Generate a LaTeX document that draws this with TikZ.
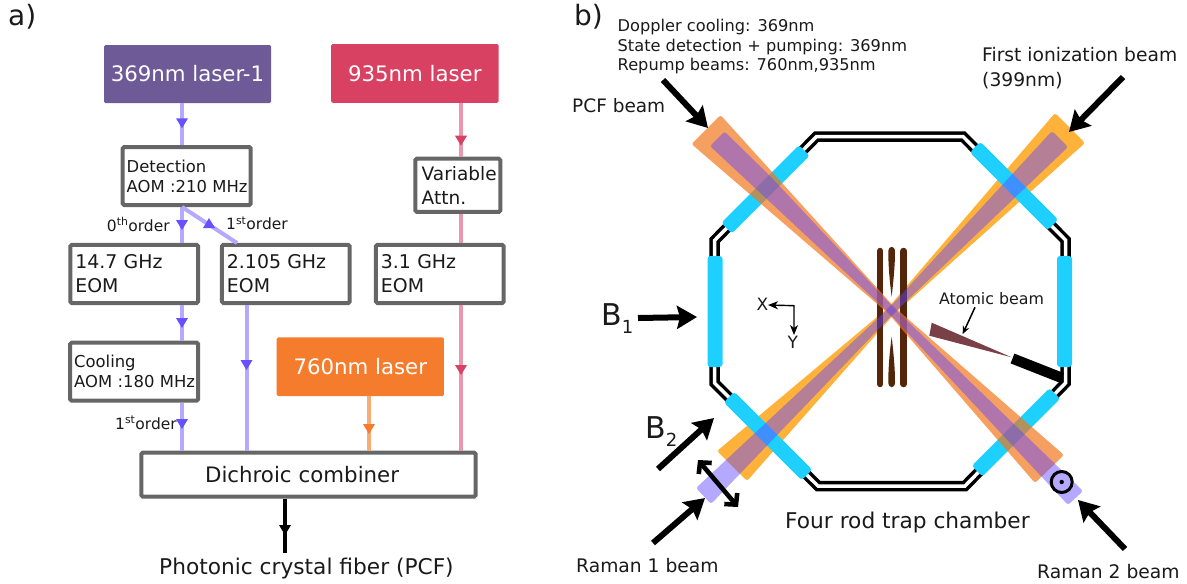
\documentclass[tikz,border=0pt]{standalone}
\usepackage{fontspec}
\setmainfont{DejaVu Sans}
\usetikzlibrary{arrows.meta}
\definecolor{ink}{HTML}{1A1A1A}
\definecolor{boxgray}{HTML}{666666}
\definecolor{violetbox}{HTML}{6E5A97}
\definecolor{redbox}{HTML}{D84162}
\definecolor{orangebox}{HTML}{F57C2C}
\definecolor{lavline}{HTML}{B4A9FF}
\definecolor{lavtip}{HTML}{6650FF}
\definecolor{pinkline}{HTML}{E897AC}
\definecolor{orangeline}{HTML}{F9AB74}
\definecolor{barcyan}{HTML}{1ED0FF}
\definecolor{beamorange}{HTML}{F1771D}
\definecolor{beamyellow}{HTML}{FFB23A}
\definecolor{beamlav}{HTML}{6246FF}
\definecolor{rodbrown}{HTML}{542508}
\definecolor{atomred}{HTML}{7A4048}
\newcommand{\fsz}[2]{\fontsize{#1}{#2}\selectfont}
\newcommand{\flowtip}[3]{\fill[#3] (#1-6,#2) -- (#1+6,#2) -- (#1,#2+10) -- cycle;}
\tikzset{
  box/.style={draw=boxgray,line width=4pt,fill=white,rounded corners=1.5pt,inner ysep=0pt,align=left,text=ink},
  laserbox/.style={fill=#1,rounded corners=1.5pt,text=white,inner sep=0pt,font=\fsz{21.3}{25}},
  txt/.style={anchor=base west,inner sep=0pt,text=ink},
  flow/.style={line width=4pt,#1},
  bigarrow/.style={line width=6pt,draw=black,-{Stealth[length=20pt,width=23pt,inset=3pt]}},
  chamberbar/.style={fill=barcyan,minimum height=15pt,rounded corners=3pt,inner sep=0pt},
  wedge/.style={rounded corners=2.5pt,fill=#1},
}
\begin{document}
\begin{tikzpicture}[x=1pt,y=-1pt]
\useasboundingbox (0,0) rectangle (1187,584);
% ---------- panel a
\node[txt,font=\fsz{28}{32}] (pa) at (8,25.5) {a)};
\node[laserbox=violetbox,minimum width=167pt,minimum height=58pt] (l369) at (187.5,74) {369nm laser-1};
\node[laserbox=redbox,minimum width=167.6pt,minimum height=58.7pt] (l935) at (414.8,73.4) {935nm laser};
\node[laserbox=orangebox,minimum width=167.3pt,minimum height=58.7pt] (l760) at (360.3,366.7) {760nm laser};
\node[box,font=\fsz{16.4}{20},text width=120pt,inner xsep=4pt,minimum height=58pt] (det) at (186.7,176) {Detection\\\mbox{AOM :210 MHz}};
\node[box,font=\fsz{18.9}{23.7},text width=117.7pt,inner xsep=5pt,minimum height=58.3pt] (e147) at (134.2,273.9) {14.7 GHz\\EOM};
\node[box,font=\fsz{18.9}{23.7},text width=117.7pt,inner xsep=5pt,minimum height=58.3pt] (e2105) at (285.8,273.9) {2.105 GHz\\EOM};
\node[box,font=\fsz{18.9}{23.7},text width=117.7pt,inner xsep=5pt,minimum height=58.3pt] (e31) at (439.8,273.9) {3.1 GHz\\EOM};
\node[box,font=\fsz{18.5}{24},text width=72.2pt,inner xsep=6.4pt,minimum height=53.3pt] (att) at (457.8,185.3) {\mbox{Variable}\\Attn.};
\node[box,font=\fsz{16.4}{20},text width=120pt,inner xsep=4pt,minimum height=58pt] (cool) at (134.2,371.7) {Cooling\\\mbox{AOM :180 MHz}};
\node[box,font=\fsz{21.3}{25},text width=206.7pt,inner xsep=63.8pt,minimum height=44pt] (dich) at (308.5,474.7) {Dichroic combiner};
\node[txt,font=\fsz{21.7}{25}] (pcf) at (159,574) {Photonic crystal fiber (PCF)};
\node[txt,font=\fsz{15.5}{18}] (o0) at (106.7,231) {0\textsuperscript{th}order};
\node[txt,font=\fsz{15.5}{18}] (o1) at (226,229.5) {1\textsuperscript{st}order};
\node[txt,font=\fsz{15.5}{18}] (o2) at (115,429) {1\textsuperscript{st}order};
\coordinate (cA) at (182,0);
\coordinate (cB) at (246.5,0);
\coordinate (cC) at (461,0);
\coordinate (cD) at (369,0);
\coordinate (cE) at (285,0);
\coordinate (fEnd) at (285,552.7);
\coordinate (dOut) at (182,207);
\coordinate (dIn) at (237,243);
\draw[flow=lavline] (l369.south -| cA) -- (det.north -| cA);
\draw[flow=lavline] (det.south -| cA) -- (e147.north -| cA);
\draw[flow=lavline] (dOut) -- (dIn);
\draw[flow=lavline] (e147.south -| cA) -- (cool.north -| cA);
\draw[flow=lavline] (cool.south -| cA) -- (dich.north -| cA);
\draw[flow=lavline] (e2105.south -| cB) -- (dich.north -| cB);
\draw[flow=pinkline] (l935.south -| cC) -- (att.north -| cC);
\draw[flow=pinkline] (att.south -| cC) -- (e31.north -| cC);
\draw[flow=pinkline] (e31.south -| cC) -- (dich.north -| cC);
\draw[flow=orangeline] (l760.south -| cD) -- (dich.north -| cD);
\draw[flow=black] (dich.south -| cE) -- (fEnd);
\flowtip{182}{118.3}{lavtip}
\flowtip{182}{220}{lavtip}
\flowtip{182}{318}{lavtip}
\flowtip{182}{419}{lavtip}
\flowtip{246.5}{360}{lavtip}
\fill[lavtip] (209,218) -- (215,228) -- (203,228) -- cycle;
\flowtip{461}{135.7}{redbox}
\flowtip{461}{365}{redbox}
\flowtip{369}{424}{orangebox}
\flowtip{285}{525}{black}
% ---------- panel b
\node[txt,font=\fsz{28}{32}] (pb) at (574,25.5) {b)};
\fill[wedge=beamyellow] (1055,113) -- (888.4,307.4) -- (717,451) -- (747,481) -- (894.6,313.6) -- (1085,143) -- cycle;
% rods
\draw[rodbrown,line width=6.5pt,line cap=round] (880.2,251) -- (880.2,384);
\draw[rodbrown,line width=6.5pt,line cap=round] (903.7,251) -- (903.7,384);
\fill[rodbrown] (891.7,296.7) .. controls (889.5,280) and (888.3,265) .. (888.3,252) .. controls (888.3,245) and (895,245) .. (895,252) .. controls (895,265) and (893.5,280) .. (891.7,296.7) -- cycle;
\fill[rodbrown] (891.7,336.7) .. controls (889.5,353) and (888.3,368) .. (888.3,382) .. controls (888.3,389) and (895,389) .. (895,382) .. controls (895,368) and (893.5,353) .. (891.7,336.7) -- cycle;
% chamber
\draw[line width=3.5pt,double=white,double distance=3.5pt,miter limit=10] (816.5,136.5) -- (963,136.5) -- (1065.5,240) -- (1065.5,383) -- (965,486) -- (818,486) -- (714.5,383) -- (714.5,240.5) -- cycle;
\node[chamberbar,minimum width=111pt,rotate=90] (barL) at (715,311.5) {};
\node[chamberbar,minimum width=111pt,rotate=90] (barR) at (1064.5,311.5) {};
\node[chamberbar,minimum width=110pt,rotate=45] (barTL) at (765.5,189.3) {};
\node[chamberbar,minimum width=110pt,rotate=-45] (barTR) at (1014,186) {};
\node[chamberbar,minimum width=110pt,rotate=-45] (barBL) at (768,436) {};
\node[chamberbar,minimum width=110pt,rotate=45] (barBR) at (1016,432.3) {};
% beams
\fill[wedge=beamorange,opacity=.7] (720.5,115) -- (894.6,307.4) -- (1064,455) -- (1035,483) -- (888.4,313.6) -- (691.5,144) -- cycle;
\fill[wedge=beamlav,opacity=.47] (1052,131) -- (889,308) -- (696,488) -- (711,504) -- (894,313) -- (1068,147) -- cycle;
\fill[wedge=beamlav,opacity=.47] (724.5,131.5) -- (770,176) -- (894,308) -- (1083,491) -- (1068,505) -- (889,313) -- (710,146) -- cycle;
% atomic beam
\coordinate (ovenA) at (1012.5,358.5);
\coordinate (ovenB) at (1062,378);
\fill[atomred] (931.7,322.7) -- (1011.7,357.3) -- (929.3,335.7) -- cycle;
\draw[black,line width=10.5pt] (ovenA) -- (ovenB);
\node[txt,font=\fsz{15.8}{19}] (atom) at (939,304) {Atomic beam};
\coordinate (atomTip) at (962.7,334);
\draw[line width=1.5pt,-{Stealth[length=8pt,width=7pt]}] (975,307.3) -- (atomTip);
% axes
\node[txt,font=\fsz{17}{20}] (xl) at (756.5,310) {X};
\node[txt,font=\fsz{17}{20}] (yl) at (787.5,348) {Y};
\coordinate (axO) at (794,305.7);
\draw[line width=1.4pt,{Stealth[length=10pt,width=8pt,inset=3pt]}-{Stealth[length=10pt,width=8pt,inset=3pt]}] (768,305) -- (axO) -- (794,335);
% thick arrows and labels
\coordinate (aPa) at (663,80);   \coordinate (aPb) at (708,128);
\coordinate (aFa) at (1123,77);  \coordinate (aFb) at (1069,132);
\coordinate (aBa) at (638,318);  \coordinate (aBb) at (697,317);
\coordinate (aCa) at (658,469);  \coordinate (aCb) at (714,418);
\coordinate (aRa) at (653,543);  \coordinate (aRb) at (705,498);
\coordinate (aSa) at (1125,549); \coordinate (aSb) at (1078,500);
\draw[bigarrow] (aPa) -- (aPb);
\draw[bigarrow] (aFa) -- (aFb);
\draw[bigarrow] (aBa) -- (aBb);
\draw[bigarrow] (aCa) -- (aCb);
\draw[bigarrow] (aRa) -- (aRb);
\draw[bigarrow] (aSa) -- (aSb);
\coordinate (dblA) at (698,460);
\coordinate (dblB) at (738,507);
\draw[line width=4.6pt,{Straight Barb[length=8pt,width=17pt]}-{Straight Barb[length=8pt,width=17pt]}] (dblA) -- (dblB);
\node[draw=black,line width=3pt,circle,minimum size=21pt,inner sep=0pt] (outc) at (1061.7,482) {};
\fill[black] (outc.center) circle[radius=2.2pt];
\node[txt,font=\fsz{16.2}{19.7},align=left,anchor=north west] (doppler) at (617.5,19) {Doppler cooling: 369nm\\State detection + pumping: 369nm\\Repump beams: 760nm,935nm};
\node[txt,font=\fsz{18.5}{22}] (pcfb) at (572,112) {PCF beam};
\node[txt,font=\fsz{18.7}{24.7},align=left,anchor=north west] (first) at (982,47) {First ionization beam\\(399nm)};
\node[txt,font=\fsz{30}{34}] (b1) at (601,325) {B\raisebox{-8pt}{\fsz{18}{18}1}};
\node[txt,font=\fsz{30}{34}] (b2) at (645,438) {B\raisebox{-8pt}{\fsz{18}{18}2}};
\node[txt,font=\fsz{21.7}{25}] (four) at (785,528) {Four rod trap chamber};
\node[txt,font=\fsz{18.7}{22}] (r1) at (576,572) {Raman 1 beam};
\node[txt,font=\fsz{18.7}{22}] (r2) at (1037,578) {Raman 2 beam};
\end{tikzpicture}
\end{document}
